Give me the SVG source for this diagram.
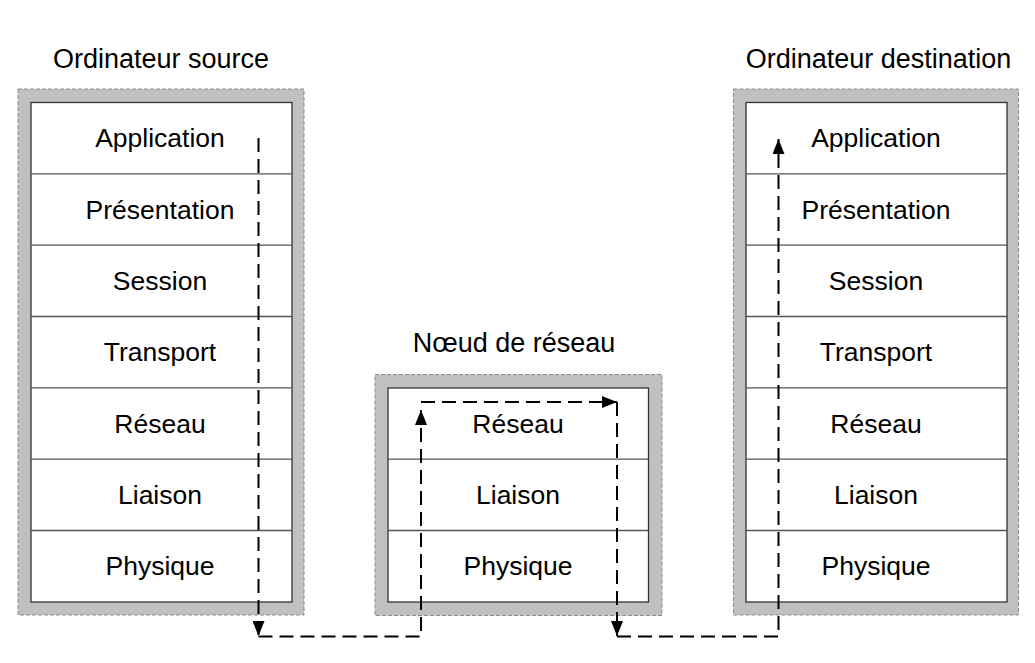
<svg xmlns="http://www.w3.org/2000/svg" width="1035" height="663" viewBox="0 0 1035 663">
<style>
.frame{fill:#c0c0c0;stroke:#8a8a8a;stroke-width:1;stroke-dasharray:4 2}
.box{fill:#ffffff;stroke:#333333;stroke-width:1.3}
.div{stroke:#555555;stroke-width:1.3}
text{font-family:"Liberation Sans",Arial,sans-serif;font-size:26.5px;fill:#000;text-anchor:middle}
.title{font-size:27px}
.conn{fill:none;stroke:#000;stroke-width:2;stroke-dasharray:14 7}
</style>
<defs>
<marker id="arr" viewBox="0 0 15 12" refX="15" refY="6" markerWidth="15" markerHeight="12" markerUnits="userSpaceOnUse" orient="auto">
<path d="M0,0 L15,6 L0,12 z" fill="#000"/>
</marker>
</defs>
<rect width="1035" height="663" fill="#ffffff"/>
<g id="source">
<text class="title" x="161" y="68">Ordinateur source</text>
<rect class="frame" x="18" y="89" width="286" height="526"/>
<rect class="box" x="31" y="102.5" width="261" height="499.5"/>
<line class="div" x1="31" y1="173.8" x2="292" y2="173.8"/>
<line class="div" x1="31" y1="245.1" x2="292" y2="245.1"/>
<line class="div" x1="31" y1="316.5" x2="292" y2="316.5"/>
<line class="div" x1="31" y1="387.8" x2="292" y2="387.8"/>
<line class="div" x1="31" y1="459.2" x2="292" y2="459.2"/>
<line class="div" x1="31" y1="530.5" x2="292" y2="530.5"/>
<text x="160" y="147">Application</text>
<text x="160" y="218.5">Présentation</text>
<text x="160" y="290">Session</text>
<text x="160" y="361">Transport</text>
<text x="160" y="432.5">Réseau</text>
<text x="160" y="504">Liaison</text>
<text x="160" y="575">Physique</text>
</g>
<g id="noeud">
<text class="title" x="514" y="352">Nœud de réseau</text>
<rect class="frame" x="375" y="374.5" width="287" height="241"/>
<rect class="box" x="388" y="388" width="260.5" height="214"/>
<line class="div" x1="388" y1="459.2" x2="648.5" y2="459.2"/>
<line class="div" x1="388" y1="530.5" x2="648.5" y2="530.5"/>
<text x="518" y="432.5">Réseau</text>
<text x="518" y="504">Liaison</text>
<text x="518" y="575">Physique</text>
</g>
<g id="destination">
<text class="title" x="878.5" y="68">Ordinateur destination</text>
<rect class="frame" x="733.5" y="89" width="285" height="526"/>
<rect class="box" x="746" y="102.5" width="261" height="499.5"/>
<line class="div" x1="746" y1="173.8" x2="1007" y2="173.8"/>
<line class="div" x1="746" y1="245.1" x2="1007" y2="245.1"/>
<line class="div" x1="746" y1="316.5" x2="1007" y2="316.5"/>
<line class="div" x1="746" y1="387.8" x2="1007" y2="387.8"/>
<line class="div" x1="746" y1="459.2" x2="1007" y2="459.2"/>
<line class="div" x1="746" y1="530.5" x2="1007" y2="530.5"/>
<text x="876" y="147">Application</text>
<text x="876" y="218.5">Présentation</text>
<text x="876" y="290">Session</text>
<text x="876" y="361">Transport</text>
<text x="876" y="432.5">Réseau</text>
<text x="876" y="504">Liaison</text>
<text x="876" y="575">Physique</text>
</g>
<g id="connectors">
<path class="conn" d="M258.5,138 L258.5,636" marker-end="url(#arr)"/>
<path class="conn" d="M258.5,636.5 L421,636.5 L421,410" marker-end="url(#arr)"/>
<path class="conn" d="M421,402 L617,402" marker-end="url(#arr)"/>
<path class="conn" d="M617,402 L617,636" marker-end="url(#arr)"/>
<path class="conn" d="M617,636.5 L778.5,636.5 L778.5,139" marker-end="url(#arr)"/>
</g>
</svg>
